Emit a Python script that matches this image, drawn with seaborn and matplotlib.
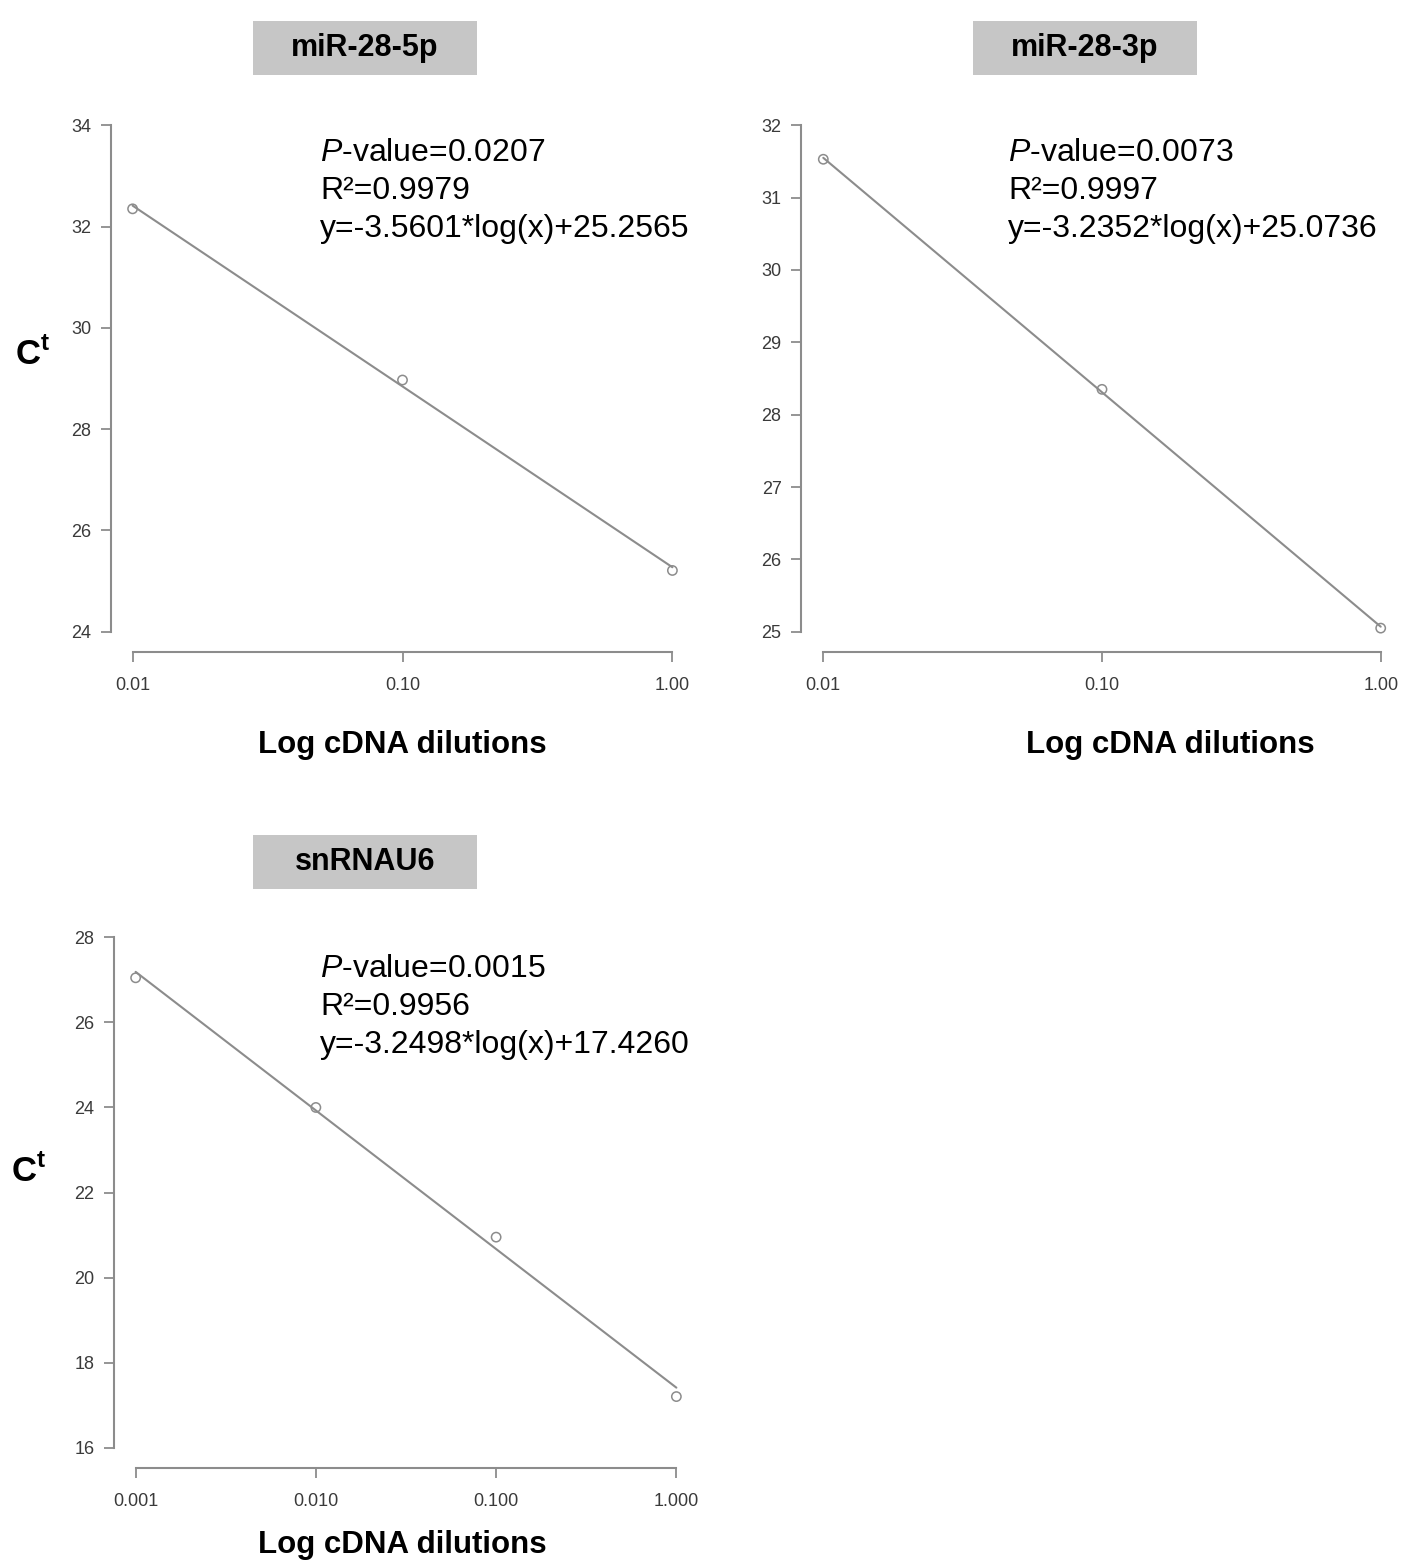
import numpy as np
import pandas as pd
import matplotlib
matplotlib.use("Agg")
import matplotlib.pyplot as plt
from matplotlib.patches import Rectangle
import seaborn as sns

# ---------------- data ----------------
titles = ["miR-28-5p", "miR-28-3p", "snRNAU6"]

dil_5p = [0.01, 0.1, 1.0]
ct_5p = [32.35, 28.97, 25.21]

dil_3p = [0.01, 0.1, 1.0]
ct_3p = [31.53, 28.35, 25.05]

dil_u6 = [0.001, 0.01, 0.1, 1.0]
ct_u6 = [27.05, 24.00, 20.95, 17.20]

pvals = ["0.0207", "0.0073", "0.0015"]
r2s = ["0.9979", "0.9997", "0.9956"]
eqs = ["y=-3.5601*log(x)+25.2565",
       "y=-3.2352*log(x)+25.0736",
       "y=-3.2498*log(x)+17.4260"]

xt_5p = [0.01, 0.1, 1.0]
xl_5p = ["0.01", "0.10", "1.00"]
xt_3p = [0.01, 0.1, 1.0]
xl_3p = ["0.01", "0.10", "1.00"]
xt_u6 = [0.001, 0.01, 0.1, 1.0]
xl_u6 = ["0.001", "0.010", "0.100", "1.000"]

yt_5p = [24, 26, 28, 30, 32, 34]
yt_3p = [25, 26, 27, 28, 29, 30, 31, 32]
yt_u6 = [16, 18, 20, 22, 24, 26, 28]

xlabel = "Log cDNA dilutions"

# ---------------- style ----------------
sns.set_theme(style="ticks")
plt.rcParams["font.family"] = ["Liberation Sans", "DejaVu Sans"]
plt.rcParams["mathtext.fontset"] = "custom"
plt.rcParams["mathtext.it"] = "Liberation Sans:italic"
plt.rcParams["mathtext.rm"] = "Liberation Sans"
plt.rcParams["mathtext.bf"] = "Liberation Sans:bold"

W, H = 1404, 1561
fig = plt.figure(figsize=(W / 100, H / 100), dpi=100)
fig.patch.set_facecolor("white")


def fx(px):
    return px / W


def fy(py):
    return 1 - py / H


GRAY = "#8c8c8c"

panels = [
    dict(dil=dil_5p, ct=ct_5p, xt=xt_5p, xl=xl_5p, yt=yt_5p,
         box=(111, 694, 105, 652), title_c=(365, 48), text_xy=(320, 153),
         xlab=(402, 745), ylab=(33, 355)),
    dict(dil=dil_3p, ct=ct_3p, xt=xt_3p, xl=xl_3p, yt=yt_3p,
         box=(801, 1403, 105, 652), title_c=(1085, 48), text_xy=(1008, 153),
         xlab=(1170, 745), ylab=None),
    dict(dil=dil_u6, ct=ct_u6, xt=xt_u6, xl=xl_u6, yt=yt_u6,
         box=(114, 698, 917, 1468), title_c=(365, 862), text_xy=(320, 969),
         xlab=(402, 1545), ylab=(29, 1172)),
]

for i, p in enumerate(panels):
    l, r, t, b = p["box"]
    ax = fig.add_axes([fx(l), fy(b), (r - l) / W, (b - t) / H])
    ax.set_facecolor("white")
    df = pd.DataFrame({"dil": p["dil"], "ct": p["ct"]})
    ax.set_xscale("log")
    sns.regplot(data=df, x="dil", y="ct", logx=True, ci=None, scatter=False,
                ax=ax, line_kws=dict(color=GRAY, lw=1.5))
    sns.scatterplot(data=df, x="dil", y="ct", ax=ax, marker="o", s=45,
                    facecolors="none", edgecolor=GRAY, linewidth=1.1, zorder=3)
    # R-style 4% padded ranges
    lx0, lx1 = np.log10(p["xt"][0]), np.log10(p["xt"][-1])
    pad = 0.04 * (lx1 - lx0)
    ax.set_xlim(10 ** (lx0 - pad), 10 ** (lx1 + pad))
    y0, y1 = p["yt"][0], p["yt"][-1]
    ypad = 0.04 * (y1 - y0)
    ax.set_ylim(y0 - ypad, y1 + ypad)
    ax.set_xticks(p["xt"], p["xl"])
    ax.xaxis.set_minor_locator(matplotlib.ticker.NullLocator())
    ax.set_yticks(p["yt"], [str(v) for v in p["yt"]])
    ax.set_xlabel("")
    ax.set_ylabel("")
    sns.despine(ax=ax)
    for s in ["left", "bottom"]:
        ax.spines[s].set_color(GRAY)
        ax.spines[s].set_linewidth(1.5)
    ax.spines["left"].set_bounds(y0, y1)
    ax.spines["bottom"].set_bounds(p["xt"][0], p["xt"][-1])
    ax.tick_params(axis="both", which="major", direction="out", length=7,
                   width=1.3, color=GRAY, labelcolor="#3a3a3a", labelsize=13)
    ax.tick_params(axis="x", pad=11)
    ax.tick_params(axis="y", pad=7)
    ax.grid(False)

    # title box
    cx, cy = p["title_c"]
    fig.add_artist(Rectangle((fx(cx - 112), fy(cy + 27)), 224 / W, 54 / H,
                             transform=fig.transFigure, facecolor="#c6c6c6",
                             edgecolor="none"))
    fig.text(fx(cx), fy(cy), titles[i], ha="center", va="center",
             fontsize=22, fontweight="bold", color="black")

    # stats text
    tx, ty = p["text_xy"]
    fig.text(fx(tx), fy(ty), r"$\it{P}$-value=" + pvals[i], ha="left",
             va="center", fontsize=23, color="black")
    fig.text(fx(tx), fy(ty + 38), "R²=" + r2s[i], ha="left",
             va="center", fontsize=23, color="black")
    fig.text(fx(tx), fy(ty + 76), eqs[i], ha="left",
             va="center", fontsize=23, color="black")

    # axis labels
    fig.text(fx(p["xlab"][0]), fy(p["xlab"][1]), xlabel, ha="center",
             va="center", fontsize=22.5, fontweight="bold", color="black")
    if p["ylab"] is not None:
        fig.text(fx(p["ylab"][0]), fy(p["ylab"][1]), r"C$^{\mathbf{t}}$",
                 ha="center", va="center", fontsize=25, fontweight="bold",
                 color="black")

fig.savefig("out.png", dpi=100, facecolor="white")
